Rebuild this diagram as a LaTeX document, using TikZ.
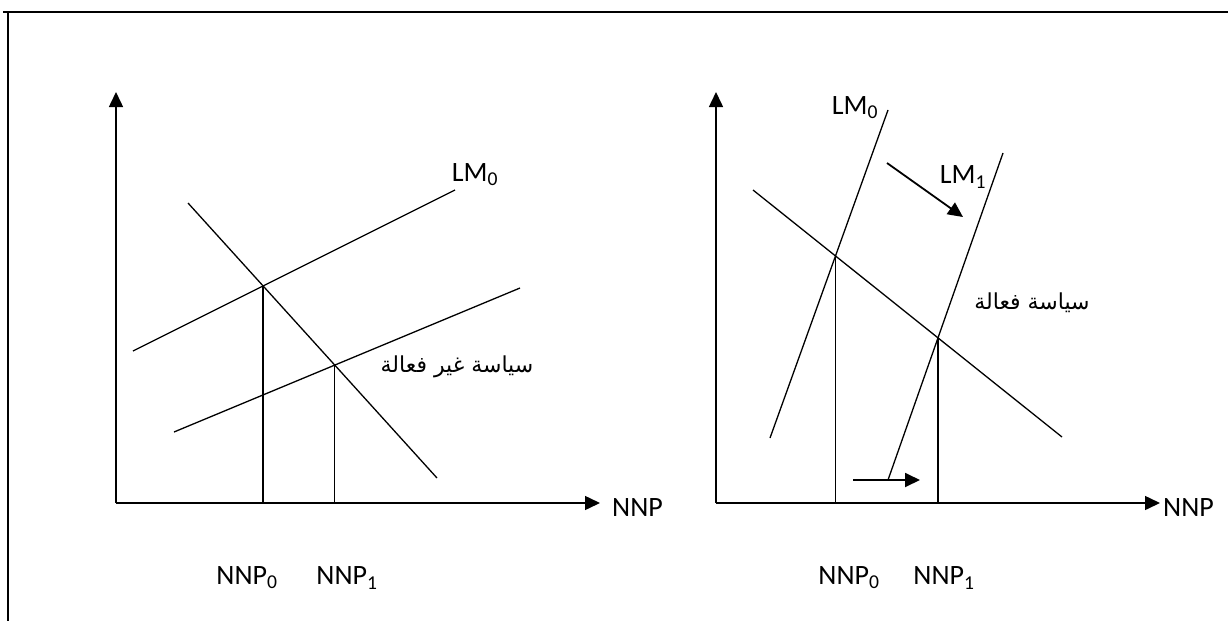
\documentclass[tikz,border=0pt]{standalone}
\usepackage{fontspec}
\setmainfont{Carlito}
\newfontfamily\arabicfont[Script=Arabic]{DejaVu Sans}
\TeXXeTstate=1
\usetikzlibrary{arrows.meta,intersections}
\begin{document}
\begin{tikzpicture}[x=1pt,y=-1pt,
  axis/.style={line width=1.5pt,-{Triangle[length=15pt,width=14pt]}},
  curve/.style={line width=1.3pt},
  shiftarrow/.style={line width=1.8pt,-{Triangle[length=15pt,width=14pt]}},
  lbl/.style={font=\fontsize{28}{30}\selectfont, inner sep=0pt},
  arlbl/.style={font=\fontsize{22}{26}\selectfont\arabicfont, inner sep=0pt},
  frame/.style={line width=2pt}]
\useasboundingbox (0,0) rectangle (1228,621);
% frame
\coordinate (F0) at (3,12);
\coordinate (F1) at (1228,12);
\coordinate (F2) at (8,12);
\coordinate (F3) at (8,621);
\draw[frame] (F0) -- (F1);
\draw[frame] (F2) -- (F3);

% ---------- left chart ----------
\coordinate (O1) at (116,503);
\coordinate (Y1) at (116,92);
\coordinate (X1) at (600,503);
\draw[axis] (O1) -- (Y1);
\draw[axis] (O1) -- (X1);
\node[lbl, anchor=west] (nnpL) at (612,508) {NNP};

\coordinate (a1) at (133,351);
\coordinate (a2) at (455,190);
\coordinate (b1) at (174,432);
\coordinate (b2) at (520,288);
\coordinate (c1) at (188,203);
\coordinate (c2) at (437,478);
\draw[curve, name path=lmA] (a1) -- (a2);
\draw[curve, name path=lmB] (b1) -- (b2);
\draw[curve, name path=isA] (c1) -- (c2);
\path[name intersections={of=lmA and isA, by=EA}];
\path[name intersections={of=lmB and isA, by=EB}];
\draw[curve] (EA) -- (EA |- O1);
\draw[curve] (EB) -- (EB |- O1);

\node[lbl] (lmL) at (475,175) {LM\textsubscript{0}};
\node[arlbl] (arL) at (457,367) {\beginR سياسة غير فعالة\endR};
\node[lbl] (n0L) at (247,578) {NNP\textsubscript{0}};
\node[lbl] (n1L) at (347,578) {NNP\textsubscript{1}};

% ---------- right chart ----------
\coordinate (O2) at (716,503);
\coordinate (Y2) at (716,92);
\coordinate (X2) at (1160,503);
\draw[axis] (O2) -- (Y2);
\draw[axis] (O2) -- (X2);
\node[lbl, anchor=west] (nnpR) at (1163,508) {NNP};

\coordinate (d1) at (770,438);
\coordinate (d2) at (888,110);
\coordinate (e1) at (888,480);
\coordinate (e2) at (1003,153);
\coordinate (f1) at (753,190);
\coordinate (f2) at (1062,437);
\draw[curve, name path=lmC] (d1) -- (d2);
\draw[curve, name path=lmD] (e1) -- (e2);
\draw[curve, name path=isB] (f1) -- (f2);
\path[name intersections={of=lmC and isB, by=EC}];
\path[name intersections={of=lmD and isB, by=ED}];
\draw[curve] (EC) -- (EC |- O2);
\draw[curve] (ED) -- (ED |- O2);

\coordinate (s1) at (887,163);
\coordinate (s2) at (963,217);
\draw[shiftarrow] (s1) -- (s2);
\coordinate (h1) at (853,480);
\coordinate (h2) at (920,480);
\draw[shiftarrow] (h1) -- (h2);

\node[lbl] (lm0R) at (855,108) {LM\textsubscript{0}};
\node[lbl] (lm1R) at (963,177) {LM\textsubscript{1}};
\node[arlbl] (arR) at (1032,303) {\beginR سياسة فعالة\endR};
\node[lbl] (n0R) at (849,578) {NNP\textsubscript{0}};
\node[lbl] (n1R) at (944,578) {NNP\textsubscript{1}};
\end{tikzpicture}
\end{document}
